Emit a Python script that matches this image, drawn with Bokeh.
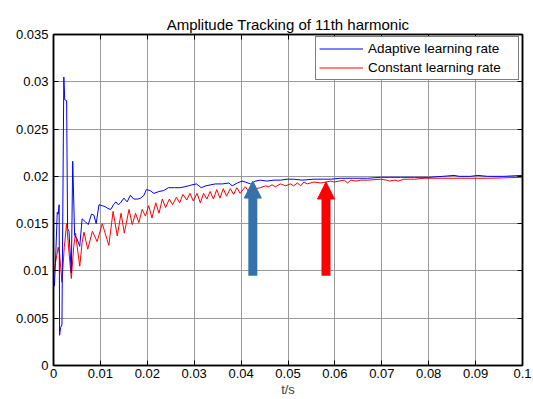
from bokeh.plotting import figure
from bokeh.models import (FixedTicker, LinearAxis, Range1d, Legend, LegendItem,
                          Arrow, NormalHead)
from bokeh.embed import file_html
from bokeh.resources import INLINE

# ---------------- data ----------------
adaptive_t = [0.0000, 0.0002, 0.0005, 0.0008, 0.0010, 0.0012, 0.0013, 0.0015, 0.0018,
              0.0022, 0.0024, 0.0028, 0.0030, 0.0033, 0.0038, 0.0041, 0.0045, 0.0050,
              0.0056, 0.0061, 0.0068, 0.0074, 0.0081, 0.0086, 0.0091, 0.0097, 0.0104,
              0.0110, 0.0116, 0.0122, 0.0128, 0.0133, 0.0138, 0.0143, 0.0150, 0.0157,
              0.0164, 0.0171, 0.0180, 0.0186, 0.0193, 0.0198, 0.0206, 0.0214, 0.0225,
              0.0235, 0.0245, 0.0258, 0.0270, 0.0280, 0.0288, 0.0295, 0.0305, 0.0315,
              0.0325, 0.0345, 0.0360, 0.0374, 0.0381, 0.0392, 0.0402, 0.0409, 0.0420,
              0.0431, 0.0441, 0.0455, 0.0470, 0.0484, 0.0498, 0.0512, 0.0530, 0.0555,
              0.0575, 0.0591, 0.0612, 0.0640, 0.0670, 0.0697, 0.0711, 0.0740, 0.0770,
              0.0800, 0.0830, 0.0854, 0.0865, 0.0889, 0.0905, 0.0925, 0.0960, 0.0999]
adaptive_v = [0.0095, 0.0084, 0.0120, 0.0162, 0.0160, 0.0170, 0.0032, 0.0040, 0.0043,
              0.0305, 0.0281, 0.0280, 0.0145, 0.0142, 0.0098, 0.0216, 0.0138, 0.0134,
              0.0126, 0.0155, 0.0152, 0.0149, 0.0160, 0.0159, 0.0150, 0.0170, 0.0169,
              0.0168, 0.0166, 0.0165, 0.0170, 0.0173, 0.0170, 0.0172, 0.0177, 0.0173,
              0.0180, 0.0176, 0.0176, 0.0177, 0.0180, 0.0186, 0.0185, 0.0182, 0.0184,
              0.0185, 0.0188, 0.0188, 0.0188, 0.0189, 0.0190, 0.0191, 0.0192, 0.0188,
              0.0190, 0.0192, 0.0192, 0.0193, 0.0190, 0.0193, 0.0195, 0.0194, 0.0192,
              0.0195, 0.0196, 0.0195, 0.0196, 0.0196, 0.0197, 0.0197, 0.0196, 0.0197,
              0.0197, 0.0197, 0.0198, 0.0198, 0.0198, 0.0199, 0.0199, 0.0199, 0.0199,
              0.0199, 0.0200, 0.0201, 0.0200, 0.0200, 0.0201, 0.0200, 0.0200, 0.0201]

constant_t = [0.0000, 0.0004, 0.0010, 0.0013, 0.0018, 0.0023, 0.0028, 0.0033, 0.0038,
              0.0043, 0.0047, 0.0052, 0.0056, 0.0061, 0.0065, 0.0073, 0.0083, 0.0093,
              0.0104, 0.0118, 0.0127, 0.0136, 0.0144, 0.0151, 0.0161, 0.0168, 0.0175,
              0.0182, 0.0189, 0.0196, 0.0203, 0.0210, 0.0218, 0.0225, 0.0232, 0.0239,
              0.0247, 0.0254, 0.0262, 0.0269, 0.0276, 0.0284, 0.0291, 0.0298, 0.0306,
              0.0313, 0.0320, 0.0327, 0.0334, 0.0341, 0.0348, 0.0355, 0.0362, 0.0369,
              0.0377, 0.0384, 0.0391, 0.0398, 0.0409, 0.0416, 0.0423, 0.0432, 0.0441,
              0.0452, 0.0459, 0.0466, 0.0473, 0.0484, 0.0495, 0.0505, 0.0512, 0.0520,
              0.0527, 0.0534, 0.0541, 0.0548, 0.0555, 0.0570, 0.0591, 0.0598, 0.0620,
              0.0627, 0.0634, 0.0645, 0.0655, 0.0670, 0.0697, 0.0710, 0.0716, 0.0728,
              0.0735, 0.0747, 0.0770, 0.0790, 0.0820, 0.0850, 0.0890, 0.0930, 0.0999]
constant_v = [0.0097, 0.0108, 0.0125, 0.0118, 0.0088, 0.0125, 0.0150, 0.0120, 0.0092,
              0.0125, 0.0140, 0.0120, 0.0105, 0.0130, 0.0141, 0.0123, 0.0142, 0.0131,
              0.0150, 0.0127, 0.0163, 0.0137, 0.0161, 0.0140, 0.0165, 0.0149, 0.0161,
              0.0151, 0.0165, 0.0158, 0.0169, 0.0156, 0.0172, 0.0161, 0.0176, 0.0167,
              0.0176, 0.0170, 0.0178, 0.0172, 0.0181, 0.0175, 0.0182, 0.0174, 0.0182,
              0.0172, 0.0182, 0.0176, 0.0184, 0.0176, 0.0186, 0.0177, 0.0187, 0.0179,
              0.0187, 0.0181, 0.0188, 0.0182, 0.0189, 0.0184, 0.0188, 0.0187, 0.0188,
              0.0190, 0.0189, 0.0191, 0.0189, 0.0192, 0.0190, 0.0192, 0.0190, 0.0193,
              0.0190, 0.0194, 0.0192, 0.0193, 0.0194, 0.0193, 0.0195, 0.0194, 0.0196,
              0.0193, 0.0196, 0.0195, 0.0196, 0.0196, 0.0197, 0.0196, 0.0195, 0.0196,
              0.0195, 0.0197, 0.0197, 0.0198, 0.0198, 0.0198, 0.0198, 0.0198, 0.0199]

x_ticks = [0, 0.01, 0.02, 0.03, 0.04, 0.05, 0.06, 0.07, 0.08, 0.09, 0.1]
x_tick_labels = ["0", "0.01", "0.02", "0.03", "0.04", "0.05", "0.06", "0.07",
                 "0.08", "0.09", "0.1"]
y_ticks = [0, 0.005, 0.01, 0.015, 0.02, 0.025, 0.03, 0.035]
y_tick_labels = ["0", "0.005", "0.01", "0.015", "0.02", "0.025", "0.03", "0.035"]

series_labels = ["Adaptive learning rate", "Constant learning rate"]
series_colors = ["#0000ff", "#ff0000"]

arrow_t = [0.0425, 0.0581]
arrow_base = [0.0095, 0.0095]
arrow_tip = [0.0195, 0.0194]
arrow_colors = ["#3572a9", "#ff0000"]

FONT = "Liberation Sans"

# ---------------- figure ----------------
p = figure(width=533, height=399, x_range=Range1d(0, 0.1), y_range=Range1d(0, 0.035),
           output_backend="svg", toolbar_location=None,
           title="Amplitude Tracking of 11th harmonic",
           min_border_left=53, min_border_right=11, min_border_top=34,
           min_border_bottom=32, background_fill_color="white",
           border_fill_color="white")

p.title.align = "center"
p.title.text_font = FONT
p.title.text_font_style = "normal"
p.title.text_font_size = "15px"
p.title.text_color = "black"
p.title.standoff = 4

p.outline_line_color = "black"
p.outline_line_width = 1.5

def style_axis(ax, ticks, labels, show_labels=True):
    ax.ticker = FixedTicker(ticks=ticks)
    ax.axis_line_color = "black"
    ax.axis_line_width = 1.5
    ax.major_tick_in = 5
    ax.major_tick_out = 0
    ax.major_tick_line_color = "black"
    ax.minor_tick_line_color = None
    if show_labels:
        ax.major_label_overrides = dict(zip(ticks, labels))
        ax.major_label_text_font = FONT
        ax.major_label_text_font_size = "13px"
        ax.major_label_text_color = "black"
        ax.major_label_standoff = 3
    else:
        ax.major_label_text_font_size = "1px"
        ax.major_label_text_alpha = 0
        ax.major_label_standoff = 0

style_axis(p.xaxis[0], x_ticks, x_tick_labels)
style_axis(p.yaxis[0], y_ticks, y_tick_labels)
p.yaxis[0].major_label_standoff = 5
p.xaxis[0].axis_label = "t/s"
p.xaxis[0].axis_label_text_font = FONT
p.xaxis[0].axis_label_text_font_size = "13px"
p.xaxis[0].axis_label_text_font_style = "normal"
p.xaxis[0].axis_label_standoff = 1

top_axis = LinearAxis()
style_axis(top_axis, x_ticks, x_tick_labels, show_labels=False)
p.add_layout(top_axis, "above")
right_axis = LinearAxis()
style_axis(right_axis, y_ticks, y_tick_labels, show_labels=False)
p.add_layout(right_axis, "right")

for g, ticks in ((p.xgrid[0], x_ticks), (p.ygrid[0], y_ticks)):
    g.ticker = FixedTicker(ticks=ticks)
    g.grid_line_color = "#9a9a9a"
    g.grid_line_width = 1
    g.grid_line_dash = "solid"

r_const = p.line(constant_t, constant_v, line_color=series_colors[1], line_width=1)
r_adapt = p.line(adaptive_t, adaptive_v, line_color=series_colors[0], line_width=1)

for xt, yb, yt, c in zip(arrow_t, arrow_base, arrow_tip, arrow_colors):
    p.add_layout(Arrow(end=NormalHead(size=17, fill_color=c, line_color=c, line_width=1),
                       x_start=xt, y_start=yb, x_end=xt, y_end=yt,
                       line_color=c, line_width=9))

legend = Legend(items=[LegendItem(label=series_labels[0], renderers=[r_adapt]),
                       LegendItem(label=series_labels[1], renderers=[r_const])],
                location=(262, 285))
legend.label_text_font = FONT
legend.label_text_font_size = "13.5px"
legend.label_text_color = "black"
legend.border_line_color = "black"
legend.border_line_width = 1
legend.background_fill_color = "white"
legend.background_fill_alpha = 1
legend.padding = 3
legend.spacing = 2
legend.margin = 0
legend.glyph_width = 44
legend.glyph_height = 17
legend.label_height = 17
legend.label_width = 147
legend.label_standoff = 5
p.add_layout(legend)

open("out.html", "w").write(file_html(p, INLINE))
